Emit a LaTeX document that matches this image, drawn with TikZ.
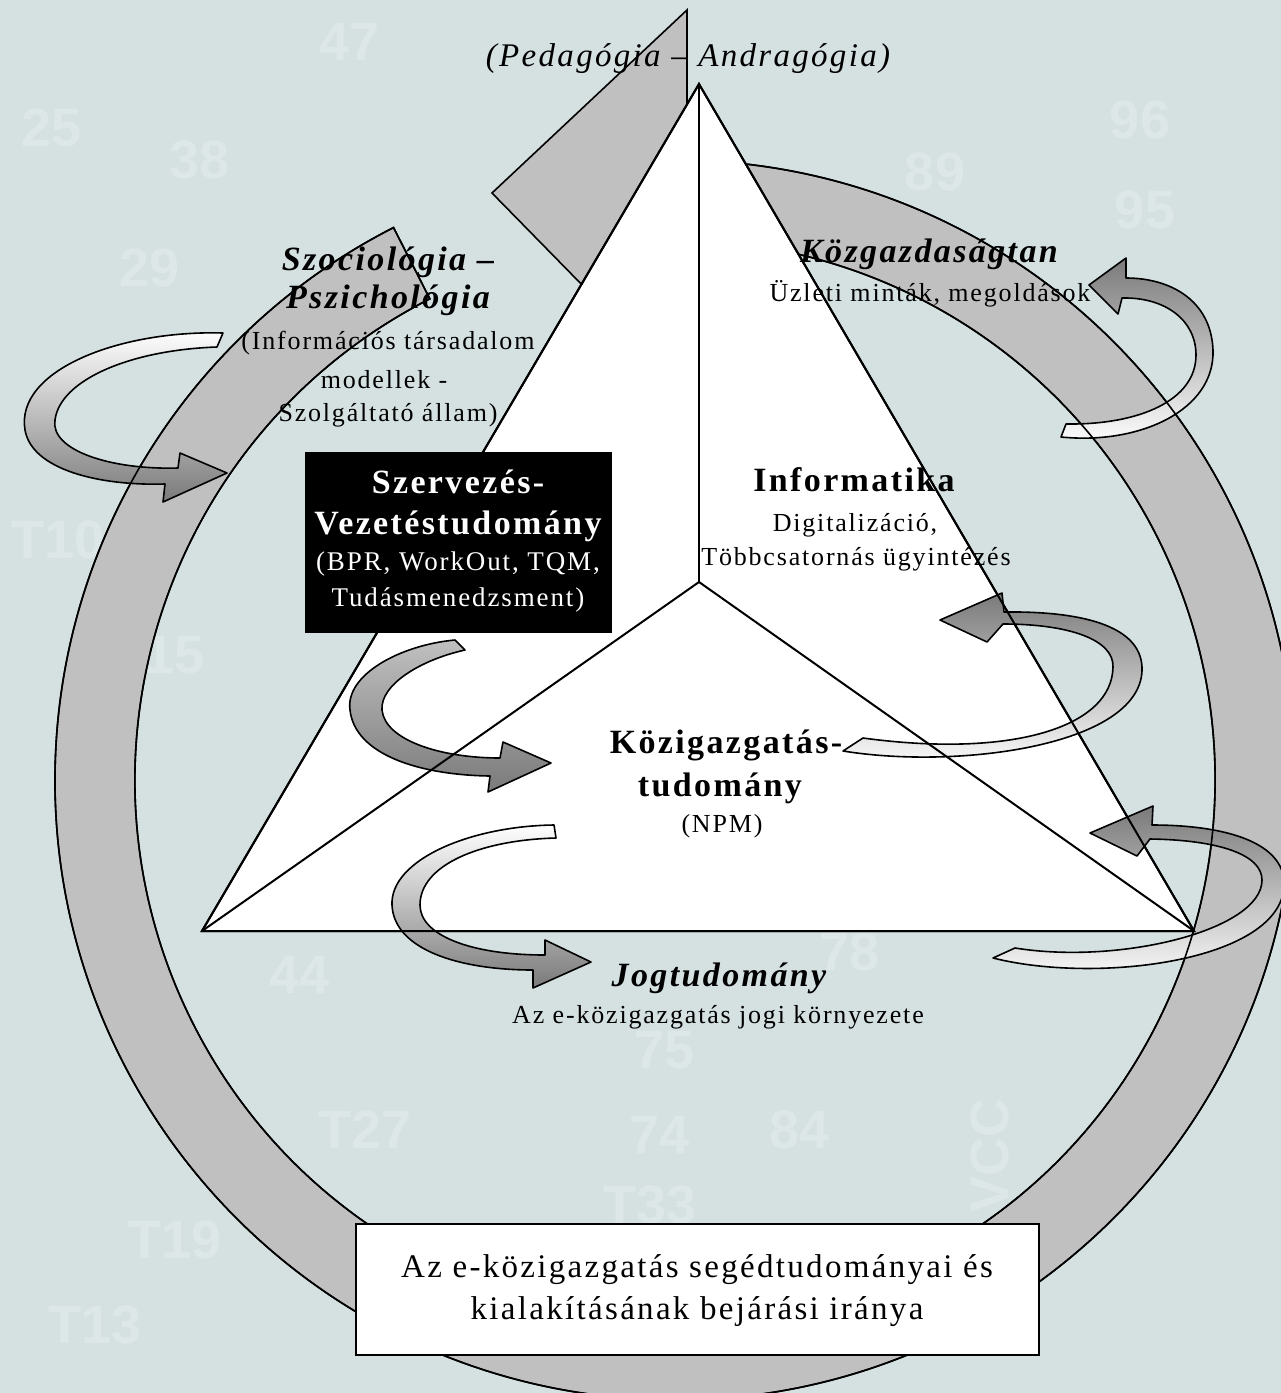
\documentclass[tikz,border=0pt]{standalone}
\usepackage{fontspec}
\setmainfont{Liberation Serif}
\newfontfamily\lsfont{Liberation Serif}[LetterSpace=7]
\newfontfamily\bgnumfont{Liberation Sans}
\usetikzlibrary{calc}
\definecolor{bgc}{RGB}{213,225,225}
\definecolor{bgtxt}{RGB}{221,231,231}
\definecolor{ringc}{RGB}{192,192,192}
\definecolor{arrc}{RGB}{122,122,122}
\tikzset{
  ringfill/.style={fill=ringc},
  outl/.style={draw=black, line width=1.6pt, line join=miter},
  triline/.style={draw=black, line width=2pt, line join=miter},
  carrow/.style={draw=black, line width=1.6pt, line join=round},
  regtxt/.style={anchor=base, inner sep=0pt, font=\lsfont\fontsize{26}{30}\selectfont},
  boldtxt/.style={anchor=base, inner sep=0pt, font=\lsfont\bfseries\fontsize{34}{38}\selectfont},
  bitxt/.style={anchor=base, inner sep=0pt, font=\lsfont\bfseries\itshape\fontsize{34}{38}\selectfont},
  ittxt/.style={anchor=base, inner sep=0pt, font=\lsfont\itshape\fontsize{33}{37}\selectfont},
  boxtxt/.style={anchor=base, inner sep=0pt, font=\lsfont\fontsize{33}{37}\selectfont},
  bgnum/.style={text=bgtxt, inner sep=0pt, font=\bgnumfont\bfseries\fontsize{54}{58}\selectfont},
}
\begin{document}
\begin{tikzpicture}[x=1pt,y=-1pt]
\useasboundingbox (0,0) rectangle (1281,1393);
\fill[bgc] (0,0) rectangle (1281,1393);
% faint background numerals
\node[bgnum] (b1) at (52,128) {25};
\node[bgnum] (b2) at (200,160) {38};
\node[bgnum] (b3) at (150,268) {29};
\node[bgnum] (b4) at (350,42) {47};
\node[bgnum] (b6) at (935,172) {89};
\node[bgnum] (b7) at (1140,120) {96};
\node[bgnum] (b8) at (1145,210) {95};
\node[bgnum] (b9) at (58,540) {T10};
\node[bgnum] (b10) at (175,655) {15};
\node[bgnum] (b11) at (300,975) {44};
\node[bgnum] (b12) at (850,952) {78};
\node[bgnum] (b13) at (665,1050) {75};
\node[bgnum] (b14) at (365,1130) {T27};
\node[bgnum] (b15) at (660,1135) {74};
\node[bgnum] (b16) at (800,1130) {84};
\node[bgnum] (b17) at (650,1205) {T33};
\node[bgnum] (b18) at (175,1240) {T19};
\node[bgnum] (b19) at (95,1325) {T13};
\node[bgnum, rotate=90] (b20) at (990,1155) {VCC};

% big circular band
\coordinate (c) at (675,780);
\path[ringfill,outl] ($(c)+(-88:620)$) arc[start angle=-88,end angle=243,radius=620]
  -- ($(c)+(243:540)$) arc[start angle=243,end angle=-88,radius=540] -- cycle;
% its detached arrow head
\coordinate (ht) at (687,10);
\coordinate (hl) at (492,193);
\coordinate (hr) at (687,392);
\path[ringfill,outl] (ht) -- (hl) -- (hr) -- cycle;

% triangle
\coordinate (ta) at (699,84);
\coordinate (tl) at (202,931);
\coordinate (tr) at (1194,931);
\coordinate (tc) at (699,582);
\fill[white] (ta) -- (tr) -- (tl) -- cycle;
\draw[triline] (ta) -- (tr) -- (tl) -- cycle;

% curved arrows
\path[carrow, top color=white, bottom color=arrc]
  (223,333) .. controls (120,330) and (15,370) .. (25,430)
  .. controls (32,470) and (100,486) .. (165,484) -- (163,502) -- (227,473) -- (180,453) -- (178,468)
  .. controls (110,470) and (50,450) .. (55,420)
  .. controls (60,380) and (130,350) .. (217,347) -- cycle;
\path[carrow, top color=ringc, bottom color=arrc]
  (455,640) .. controls (400,645) and (345,675) .. (350,710)
  .. controls (355,755) and (420,775) .. (490,776) -- (488,792) -- (551,763) -- (503,742) -- (500,758)
  .. controls (440,758) and (385,740) .. (382,710)
  .. controls (380,685) and (420,660) .. (465,650) -- cycle;
\path[carrow, top color=white, bottom color=arrc]
  (554,825) .. controls (470,826) and (390,860) .. (392,905)
  .. controls (394,950) and (460,970) .. (533,970) -- (533,988) -- (591,962) -- (545,940) -- (545,955)
  .. controls (470,955) and (420,935) .. (420,905)
  .. controls (420,865) and (480,840) .. (556,838) -- cycle;
\path[carrow, top color=arrc, bottom color=white]
  (1061,437) .. controls (1140,445) and (1215,410) .. (1213,350)
  .. controls (1211,300) and (1170,278) .. (1126,278) -- (1126,258) -- (1089,285) -- (1118,314) -- (1122,298)
  .. controls (1165,297) and (1196,320) .. (1196,355)
  .. controls (1196,400) and (1140,425) .. (1066,424) -- cycle;
\path[carrow, top color=arrc, bottom color=white]
  (843,751) .. controls (960,770) and (1145,745) .. (1142,667)
  .. controls (1140,625) and (1080,611) .. (1004,612) -- (1002,593) -- (940,620) -- (987,642) -- (1003,624)
  .. controls (1070,624) and (1114,640) .. (1113,667)
  .. controls (1112,728) and (1010,758) .. (863,738) -- cycle;
\path[carrow, top color=arrc, bottom color=white]
  (993,958) .. controls (1100,985) and (1290,960) .. (1284,880)
  .. controls (1280,840) and (1220,825) .. (1152,825) -- (1153,806) -- (1090,833) -- (1137,856) -- (1150,839)
  .. controls (1220,840) and (1262,855) .. (1262,880)
  .. controls (1262,930) and (1120,965) .. (1015,948) -- cycle;

% outlines that show over the arrows
\draw[triline] (ta) -- (tr) -- (tl) -- cycle;
\draw[triline] (ta) -- (tc);
\draw[triline] (tc) -- (tl);
\draw[triline] (tc) -- (tr);
\draw[outl] ($(c)+(-83.3:620)$) arc[start angle=-83.3,end angle=243,radius=620]
  -- ($(c)+(243:540)$) arc[start angle=243,end angle=-76.8,radius=540];

% boxes
\node[draw=black, line width=2pt, fill=white, minimum width=683pt, minimum height=131pt, inner sep=0pt] (mainbox) at (697.5,1289.5) {};
\node[fill=black, minimum width=307pt, minimum height=181pt, inner sep=0pt] (sbox) at (458.5,542.5) {};

% texts
\node[ittxt] (ped) at (688,66) {(Pedagógia – Andragógia)};
\node[bitxt] (szoc1) at (388,270) {Szociológia –};
\node[bitxt] (szoc2) at (388,308) {Pszichológia};
\node[regtxt] (szoc3) at (388,349) {(Információs társadalom};
\node[regtxt] (szoc4) at (384,388) {modellek -};
\node[regtxt] (szoc5) at (388,421) {Szolgáltató állam)};
\node[boldtxt, text=white] (sz1) at (458,493) {Szervezés-};
\node[boldtxt, text=white] (sz2) at (458,534) {Vezetéstudomány};
\node[regtxt, text=white, font=\lsfont\fontsize{27}{31}\selectfont] (sz3) at (458,570) {(BPR, WorkOut, TQM,};
\node[regtxt, text=white, font=\lsfont\fontsize{27}{31}\selectfont] (sz4) at (458,606) {Tudásmenedzsment)};
\node[bitxt] (kg1) at (929,262) {Közgazdaságtan};
\node[regtxt] (kg2) at (930,301) {Üzleti minták, megoldások};
\node[boldtxt] (inf1) at (854,491) {Informatika};
\node[regtxt] (inf2) at (855,531) {Digitalizáció,};
\node[regtxt] (inf3) at (856,565) {Többcsatornás ügyintézés};
\node[boldtxt] (kt1) at (726,753) {Közigazgatás-};
\node[boldtxt] (kt2) at (720,796) {tudomány};
\node[regtxt] (kt3) at (722,832) {(NPM)};
\node[bitxt] (jog1) at (719,986) {Jogtudomány};
\node[regtxt] (jog2) at (718,1023) {Az e-közigazgatás jogi környezete};
\node[boxtxt] (mb1) at (697,1277) {Az e-közigazgatás segédtudományai és};
\node[boxtxt] (mb2) at (697,1319) {kialakításának bejárási iránya};
\end{tikzpicture}
\end{document}
